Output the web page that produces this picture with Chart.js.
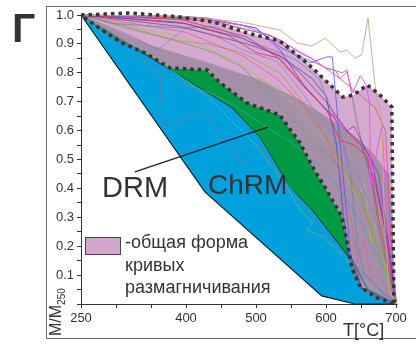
<!DOCTYPE html>
<html>
<head>
<meta charset="utf-8">
<script src="https://cdn.jsdelivr.net/npm/chart.js@4.4.0/dist/chart.umd.min.js"></script>
<style>
  body { margin: 0; background: #fff; font-family: "Liberation Sans", Arial, sans-serif; }
  #wrap { position: relative; width: 416px; height: 350px; overflow: hidden; }
  #frame { position: absolute; left: 46px; top: 6px; width: 420px; height: 331px; border: 1.5px solid #6a6a6a; }
  canvas { position: absolute; left: 0; top: 0; }
  .lbl { position: absolute; color: #333; white-space: nowrap; line-height: 1; }
  #legendBox { position: absolute; left: 85px; top: 237px; width: 34px; height: 16px; background: #d4a5cd; border: 1.5px solid #444; }
</style>
</head>
<body>
<div id="wrap">
  <div id="frame"></div>
  <canvas id="chart" width="416" height="350"></canvas>
  <div class="lbl" style="left:12px; top:8px; font-size:41px; font-weight:bold;">Г</div>
  <div class="lbl" style="left:102px; top:173px; font-size:29px;">DRM</div>
  <div class="lbl" style="left:208px; top:171px; font-size:28px;">ChRM</div>
  <div id="legendBox"></div>
  <div class="lbl" style="left:125px; top:231px; font-size:18px; line-height:22.5px;">-общая форма<br>кривых<br>размагничивания</div>
  <div class="lbl" style="left:343px; top:321px; font-size:18px;">T[°C]</div>
  <div class="lbl" style="left:48px; top:336px; font-size:16px; transform-origin:0 0; transform:rotate(-90deg);">M/M<sub style="font-size:10px;">250</sub></div>
</div>
<script>
// шкалы
const xTickLabels = [250, 400, 500, 600, 700];

// контуры областей (T, M/M250)
const drmEdge = [[250, 1.0], [427, 0.388], [594, 0.028], [641, 0], [700, 0]];
const chrmEdge = [[250, 1.0], [391, 0.792], [467, 0.678], [506, 0.578], [549, 0.405], [581, 0.325], [639, 0.145], [651, 0.055], [700, 0]];
const purpleUpper = [[250, 1.0], [320, 1.007], [391, 0.993], [439, 0.976], [487, 0.938], [534, 0.91], [573, 0.834], [606, 0.758], [624, 0.716], [639, 0.723], [659, 0.758], [677, 0.723], [694, 0.682], [697, 0.014], [700, 0]];
const purpleLower = [[250, 1.0], [274, 0.958], [309, 0.903], [341, 0.869], [377, 0.817], [430, 0.81], [449, 0.765], [487, 0.696], [534, 0.654], [563, 0.557], [581, 0.474], [601, 0.394], [623, 0.301], [637, 0.125], [649, 0.059], [673, 0.021], [700, 0]];
const greyTop = [[250, 1.0], [349, 0.896], [420, 0.844], [506, 0.775], [563, 0.706], [620, 0.619], [663, 0.533], [691, 0.446], [700, 0.01]];
const drmPointer = [[327, 0.457], [517, 0.612]];

// кривые размагничивания
const curveTan = [[250, 1], [400, 0.995], [480, 0.975], [534, 0.948], [559, 0.903], [580, 0.893], [599, 0.92], [620, 0.872], [630, 0.879], [641, 0.851], [651, 0.862], [660, 0.99], [670, 0.758], [680, 0.637], [683, 0.3], [690, 0.05], [700, 0]];
const curveMagenta = [[250, 1], [400, 0.995], [480, 0.965], [534, 0.915], [563, 0.868], [583, 0.845], [600, 0.815], [613, 0.81], [620, 0.78], [630, 0.803], [638, 0.73], [649, 0.79], [657, 0.76], [662, 0.7], [664, 0.4], [672, 0.52], [680, 0.62], [686, 0.35], [700, 0.02]];
const curveBlueHi = [[250, 1], [420, 0.99], [500, 0.955], [534, 0.89], [577, 0.834], [601, 0.855], [609, 0.855], [617, 0.637], [628, 0.35], [636, 0.15], [660, 0.05], [700, 0]];
const curveGreyHi = [[250, 1], [430, 0.985], [520, 0.93], [560, 0.86], [601, 0.817], [623, 0.8], [630, 0.81], [645, 0.62], [665, 0.42], [680, 0.2], [700, 0.01]];
const curveViolet = [[250, 1], [391, 0.995], [430, 0.99], [470, 0.97], [500, 0.955], [534, 0.88], [570, 0.75], [601, 0.67], [617, 0.64], [630, 0.6], [640, 0.615], [660, 0.52], [675, 0.45], [690, 0.2], [700, 0.01]];
const curveRed = [[250, 1], [391, 0.985], [487, 0.924], [530, 0.855], [573, 0.74], [601, 0.671], [620, 0.567], [640, 0.55], [659, 0.509], [663, 0.474], [675, 0.3], [690, 0.12], [700, 0.01]];
const curveCrimson = [[250, 1], [391, 0.975], [460, 0.93], [500, 0.87], [534, 0.85], [560, 0.78], [590, 0.7], [620, 0.62], [650, 0.55], [670, 0.42], [685, 0.25], [700, 0.01]];
const curvePlum = [[250, 1], [391, 0.96], [487, 0.9], [534, 0.86], [563, 0.8], [600, 0.7], [630, 0.6], [650, 0.56], [665, 0.5], [680, 0.32], [700, 0.01]];
const curveSlate = [[250, 1], [300, 0.97], [391, 0.955], [440, 0.96], [500, 0.9], [534, 0.87], [560, 0.84], [590, 0.78], [620, 0.6], [635, 0.45], [645, 0.2], [655, 0.1], [700, 0]];
const curveLilac = [[250, 1], [320, 0.93], [360, 0.88], [400, 0.955], [440, 0.93], [480, 0.88], [530, 0.84], [560, 0.75], [590, 0.65], [620, 0.55], [650, 0.42], [670, 0.3], [690, 0.12], [700, 0.01]];
const curveOlive = [[250, 1], [320, 0.95], [391, 0.91], [430, 0.9], [480, 0.87], [534, 0.8], [560, 0.72], [590, 0.62], [620, 0.5], [640, 0.4], [660, 0.3], [680, 0.18], [700, 0.01]];
const curveGreen = [[250, 1], [330, 0.95], [400, 0.9], [440, 0.87], [480, 0.82], [520, 0.72], [560, 0.62], [600, 0.52], [630, 0.45], [650, 0.38], [665, 0.25], [680, 0.15], [700, 0]];
const curveTeal = [[250, 1], [316, 0.855], [381, 0.775], [434, 0.73], [467, 0.69], [510, 0.62], [550, 0.56], [590, 0.48], [620, 0.4], [650, 0.28], [670, 0.18], [690, 0.07], [700, 0]];
const curveSteel = [[250, 1], [330, 0.88], [363, 0.79], [366, 0.61], [400, 0.64], [427, 0.67], [449, 0.574], [480, 0.488], [506, 0.543], [563, 0.36], [606, 0.22], [649, 0.118], [680, 0.04], [700, 0]];
const curveGreenLow = [[250, 1], [350, 0.86], [430, 0.72], [500, 0.55], [540, 0.42], [563, 0.325], [581, 0.28], [573, 0.256], [596, 0.232], [630, 0.152], [660, 0.06], [700, 0]];
const curvePink = [[250, 1], [400, 0.94], [480, 0.86], [530, 0.78], [570, 0.68], [600, 0.58], [620, 0.45], [635, 0.3], [645, 0.14], [655, 0.22], [665, 0.08], [675, 0.12], [690, 0.03], [700, 0]];
const curveLime = [[250, 1], [400, 0.92], [470, 0.84], [520, 0.76], [560, 0.68], [600, 0.56], [630, 0.44], [645, 0.36], [655, 0.42], [665, 0.2], [675, 0.32], [685, 0.1], [700, 0]];
const curveRose = [[250, 1], [430, 0.98], [520, 0.93], [580, 0.85], [620, 0.78], [650, 0.72], [670, 0.68], [685, 0.6], [690, 0.35], [695, 0.1], [700, 0]];
const curveNavy = [[250, 1], [400, 0.97], [480, 0.92], [540, 0.85], [580, 0.78], [600, 0.72], [615, 0.55], [625, 0.3], [632, 0.18], [660, 0.05], [700, 0]];

const curveList = [
    [curveTan, 'rgba(200,170,135,0.95)'],
    [curveMagenta, 'rgba(240,80,240,0.9)'],
    [curveBlueHi, 'rgba(90,90,240,0.85)'],
    [curveGreyHi, 'rgba(120,120,110,0.8)'],
    [curveViolet, 'rgba(150,50,220,0.85)'],
    [curveRed, 'rgba(220,50,80,0.8)'],
    [curveCrimson, 'rgba(200,30,100,0.7)'],
    [curvePlum, 'rgba(130,50,130,0.7)'],
    [curveSlate, 'rgba(110,125,190,0.75)'],
    [curveLilac, 'rgba(140,125,205,0.7)'],
    [curveOlive, 'rgba(170,145,80,0.7)'],
    [curveGreen, 'rgba(95,160,80,0.7)'],
    [curveTeal, 'rgba(60,170,170,0.7)'],
    [curveSteel, 'rgba(100,130,165,0.8)'],
    [curveGreenLow, 'rgba(110,185,110,0.8)'],
    [curvePink, 'rgba(220,100,150,0.8)'],
    [curveLime, 'rgba(175,190,65,0.75)'],
    [curveRose, 'rgba(225,80,110,0.8)'],
    [curveNavy, 'rgba(65,80,175,0.8)']
];

function toXY(points) {
    return points.map(p => ({ x: p[0], y: p[1] }));
}

// многоугольники для заливки
const blueShape = drmEdge.concat(chrmEdge.slice().reverse());
const greenShape = purpleLower.concat(chrmEdge.slice().reverse());
const pinkShape = purpleUpper.concat(purpleLower.slice().reverse());
const greyShape = greyTop.concat(purpleLower.slice().reverse());

const datasets = [
    { data: toXY(pinkShape), borderColor: '#353535', borderWidth: 3.5, borderDash: [3.5, 4], fill: false, order: 1 },
    { data: toXY(drmPointer), borderColor: '#222', borderWidth: 1.3, fill: false, order: 3 },
    { data: toXY(blueShape), borderColor: '#1a1a1a', borderWidth: 1.2, backgroundColor: '#00a0dd', fill: 'shape', order: 10 },
    { data: toXY(greenShape), borderColor: 'rgba(0,0,0,0)', borderWidth: 0, backgroundColor: '#009a45', fill: 'shape', order: 9 },
    { data: toXY(pinkShape), borderColor: 'rgba(0,0,0,0)', borderWidth: 0, backgroundColor: 'rgba(180,100,170,0.55)', fill: 'shape', order: 8 },
    { data: toXY(greyShape), borderColor: 'rgba(0,0,0,0)', borderWidth: 0, backgroundColor: 'rgba(100,105,115,0.42)', fill: 'shape', order: 7 }
];
curveList.forEach(c => {
    datasets.push({ data: toXY(c[0]), borderColor: c[1], borderWidth: 1, fill: false, order: 5 });
});
datasets.forEach(d => {
    d.showLine = true;
    d.pointRadius = 0;
    d.tension = 0;
    d.clip = 6;
});

Chart.defaults.font.family = '"Liberation Sans", Arial, sans-serif';

const ctx = document.getElementById('chart').getContext('2d');
new Chart(ctx, {
    type: 'scatter',
    data: { datasets: datasets },
    options: {
        responsive: false,
        animation: false,
        devicePixelRatio: 1,
        layout: { padding: { left: 0, top: 15, right: 20, bottom: 0 } },
        plugins: { legend: { display: false }, tooltip: { enabled: false } },
        scales: {
            x: {
                type: 'linear',
                min: 250,
                max: 700,
                afterFit: s => { s.height = 46; },
                ticks: {
                    stepSize: 50,
                    autoSkip: false,
                    maxRotation: 0,
                    padding: 3,
                    color: '#333',
                    font: { size: 13 },
                    callback: v => xTickLabels.includes(v) ? String(v) : ''
                },
                grid: { drawOnChartArea: false, drawTicks: true, tickLength: 4, color: '#333' },
                border: { display: true, color: '#333', width: 1 }
            },
            y: {
                min: 0,
                max: 1,
                afterFit: s => { s.width = 81; },
                ticks: {
                    stepSize: 0.05,
                    autoSkip: false,
                    padding: 3,
                    color: '#333',
                    font: { size: 13 },
                    callback: v => {
                        const t = Math.round(v * 10);
                        if (Math.abs(v * 10 - t) > 1e-6 || t === 0) return '';
                        return (t / 10).toFixed(1);
                    }
                },
                grid: { drawOnChartArea: false, drawTicks: true, tickLength: 4, color: '#333' },
                border: { display: true, color: '#333', width: 1 }
            }
        }
    }
});
</script>
</body>
</html>
